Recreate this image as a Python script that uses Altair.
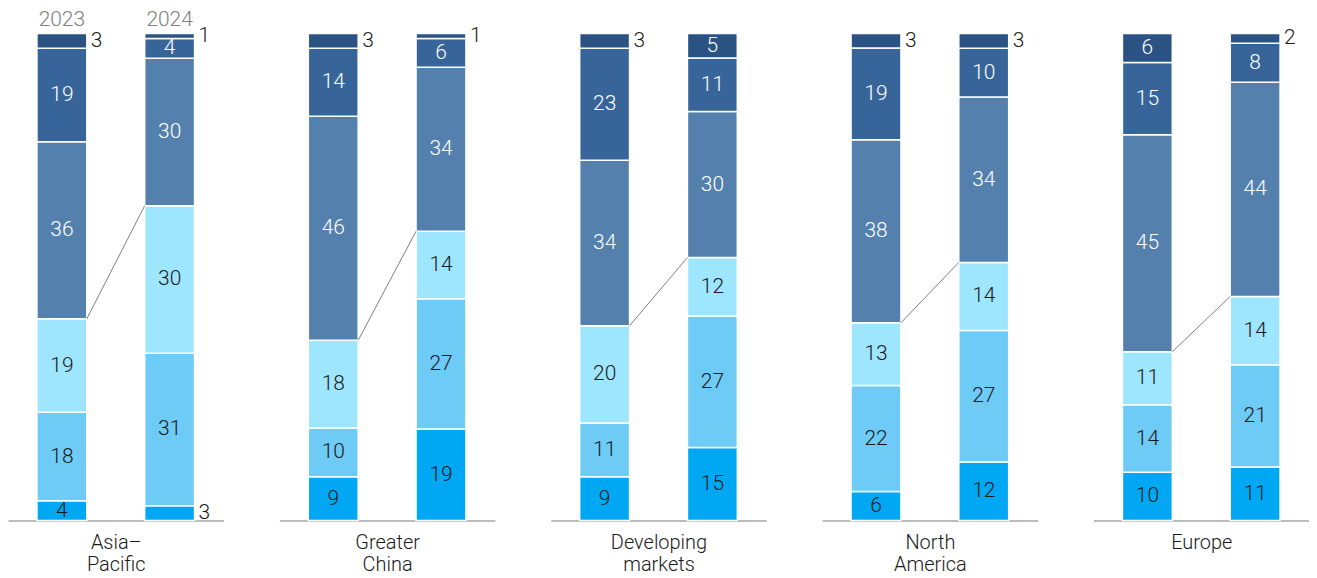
import altair as alt
import pandas as pd

regions = ["Asia–Pacific", "Greater China", "Developing markets", "North America", "Europe"]
region_lines = [["Asia–", "Pacific"], ["Greater", "China"], ["Developing", "markets"], ["North", "America"], ["Europe"]]
years = ["2023", "2024"]

# segments listed bottom -> top
vals_2023 = [
    [4, 18, 19, 36, 19, 3],
    [9, 10, 18, 46, 14, 3],
    [9, 11, 20, 34, 23, 3],
    [6, 22, 13, 38, 19, 3],
    [10, 14, 11, 45, 15, 6],
]
vals_2024 = [
    [3, 31, 30, 30, 4, 1],
    [19, 27, 14, 34, 6, 1],
    [15, 27, 12, 30, 11, 5],
    [12, 27, 14, 34, 10, 3],
    [11, 21, 14, 44, 8, 2],
]
seg_colors = ["#00a8f3", "#6dcbf6", "#9ee6fd", "#5480ad", "#37659a", "#2a5383"]

FONT = "Roboto"
FS = 21
PW, GAP, H = 216, 56, 488
STEP = PW / 2
BW = 50

panels = []
for ri, reg in enumerate(regions):
    rows = []
    frac3 = {}
    for yr, vals in zip(years, [vals_2023[ri], vals_2024[ri]]):
        tot = sum(vals)
        cum = 0
        for si, v in enumerate(vals):
            y0 = cum / tot
            cum += v
            y1 = cum / tot
            if si == 2:
                frac3[yr] = y1
            rows.append({"year": yr, "seg": si, "v": v, "y0": y0, "y1": y1,
                         "ym": (y0 + y1) / 2, "lbl": str(v)})
    df = pd.DataFrame(rows)
    xscale = alt.Scale(domain=years, paddingInner=(STEP - BW) / STEP,
                       paddingOuter=(STEP - BW) / 2 / STEP)
    yscale = alt.Scale(domain=[0, 1])
    x = alt.X("year:N", scale=xscale,
              axis=alt.Axis(title=region_lines[ri], labels=False, ticks=False,
                            domainColor="#a6a6a6", domainWidth=1.5,
                            titleFont=FONT, titleFontSize=FS - 1, titleFontWeight=300,
                            titleColor="#1a1a1a", titlePadding=12, titleLineHeight=22))
    bars = alt.Chart(df).mark_bar(stroke="white", strokeWidth=1.5).encode(
        x=x,
        y=alt.Y("y0:Q", scale=yscale, axis=None),
        y2="y1:Q",
        color=alt.Color("seg:O", scale=alt.Scale(domain=list(range(6)), range=seg_colors), legend=None),
    )
    inside = df[df["v"] > 3]
    dark = alt.Chart(inside[inside["seg"] < 3]).mark_text(
        font=FONT, fontSize=FS, fontWeight=300, color="#1a1a1a", baseline="middle"
    ).encode(x=alt.X("year:N"), y=alt.Y("ym:Q"), text="lbl:N")
    light = alt.Chart(inside[inside["seg"] >= 3]).mark_text(
        font=FONT, fontSize=FS, fontWeight=300, color="white", baseline="middle"
    ).encode(x=alt.X("year:N"), y=alt.Y("ym:Q"), text="lbl:N")
    outside = alt.Chart(df[df["v"] <= 3]).mark_text(
        font=FONT, fontSize=FS, fontWeight=300, color="#1a1a1a", baseline="middle",
        align="left", dx=4
    ).encode(x=alt.X("year:N", bandPosition=1), y=alt.Y("ym:Q"), text="lbl:N")
    conn_df = pd.DataFrame([{"a": years[0], "b": years[1], "ya": frac3[years[0]], "yb": frac3[years[1]]}])
    conn = alt.Chart(conn_df).mark_rule(color="#7f7f7f", strokeWidth=1).encode(
        x=alt.X("a:N", bandPosition=1),
        x2=alt.X2("b:N", bandPosition=0),
        y=alt.Y("ya:Q"),
        y2="yb:Q",
    )
    layers = [bars, conn, dark, light, outside]
    if ri == 0:
        ydf = pd.DataFrame({"year": years, "top": [1.0, 1.0]})
        ylab = alt.Chart(ydf).mark_text(
            font=FONT, fontSize=FS, fontWeight=300, color="#808080", baseline="bottom", dy=-4
        ).encode(x=alt.X("year:N"), y=alt.Y("top:Q"), text="year:N")
        layers.append(ylab)
    panels.append(alt.layer(*layers).properties(width=PW, height=H))

chart = alt.hconcat(*panels, spacing=GAP).properties(
    padding={"left": 0, "top": 0, "right": 0, "bottom": 0}
).configure_view(stroke=None).configure_axis(grid=False)

chart.save("out.html", embed_options={"renderer": "svg", "actions": False})
